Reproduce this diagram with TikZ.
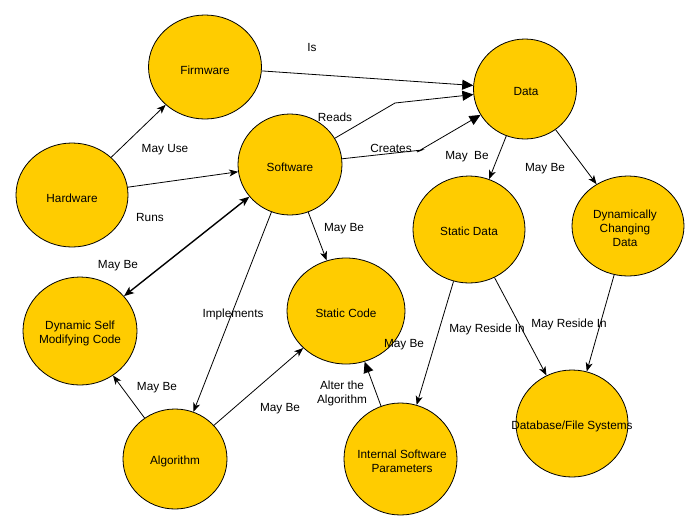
\documentclass[tikz,border=0pt]{standalone}
\usepackage{fontspec}
\setmainfont{Liberation Sans}
\usetikzlibrary{shapes.geometric,arrows.meta}
\definecolor{bubfill}{RGB}{255,204,0}
\begin{document}
\begin{tikzpicture}[x=1pt,y=-1pt,
  font=\fontsize{11.8}{13.8}\selectfont,
  bub/.style n args={2}{ellipse, draw=black, line width=0.8pt, fill=bubfill, inner sep=0pt,
     minimum width=#1, minimum height=#2},
  txt/.style={align=center, inner sep=0pt, yshift=-1.5pt},
  con/.style={line width=0.8pt, -{Stealth[length=9pt,width=7pt,inset=2.5pt]}},
  tri/.style={line width=0.8pt, -{Triangle[length=11pt,width=10pt]}},
  lbl/.style={inner sep=0pt, yshift=-1.5pt}]
\useasboundingbox (0,0) rectangle (699,531);
% nodes
\node[bub={113pt}{104pt}] (fw) at (205,67) {};
\node[txt] at (205,69) {Firmware};
\node[bub={103pt}{100pt}] (data) at (525,89) {};
\node[txt] at (526,90) {Data};
\node[bub={104pt}{101pt}] (sw) at (290,164.5) {};
\node[txt] at (290,166) {Software};
\node[bub={112pt}{104pt}] (hw) at (72,195) {};
\node[txt] at (72,197) {Hardware};
\node[bub={112pt}{107pt}] (sd) at (469,229.5) {};
\node[txt] at (469,230) {Static Data};
\node[bub={112pt}{100pt}] (dcd) at (628,226) {};
\node[txt] at (625,227) {Dynamically\\Changing\\Data};
\node[bub={114pt}{108pt}] (dsm) at (80,331) {};
\node[txt] at (80,332) {Dynamic Self\\Modifying Code};
\node[bub={118pt}{106pt}] (sc) at (346,311) {};
\node[txt] at (346,312) {Static Code};
\node[bub={104pt}{100pt}] (alg) at (175,459) {};
\node[txt] at (175,460) {Algorithm};
\node[bub={113pt}{112pt}] (isp) at (400.5,459) {};
\node[txt] at (402,460) {Internal Software\\Parameters};
\node[bub={112pt}{107pt}] (db) at (572,423.5) {};
\node[txt] at (572,425) {Database/File Systems};
% connector bends
\coordinate (rb) at (395,103);
\coordinate (cb1) at (422,150);
\coordinate (cb2) at (417,152);
% connectors
\draw[tri] (fw) -- (data);
\draw[tri] (sw) -- (rb) -- (data);
\draw[tri] (sw) -- (cb1) -- (cb2) -- (data);
\draw[con] (hw) -- (fw);
\draw[con] (hw) -- (sw);
\draw[line width=1.4pt, {Stealth[length=10pt,width=8pt,inset=2.5pt]}-{Stealth[length=10pt,width=8pt,inset=2.5pt]}] (sw) -- (dsm);
\draw[con] (sw) -- (alg);
\draw[con] (sw) -- (sc);
\draw[con] (data) -- (sd);
\draw[con] (data) -- (dcd);
\draw[con] (sd) -- (isp);
\draw[con] (sd) -- (db);
\draw[con] (dcd) -- (db);
\draw[tri] (isp) -- (sc);
\draw[con] (alg) -- (dsm);
\draw[con] (alg) -- (sc);
% labels
\node[lbl] at (312,46) {Is};
\node[lbl] at (335,116) {Reads};
\node[lbl] at (391,147) {Creates};
\node[lbl] at (467,155) {May~~Be};
\node[lbl] at (545,167) {May Be};
\node[lbl] at (165,148) {May Use};
\node[lbl] at (150,216) {Runs};
\node[lbl] at (118,264) {May Be};
\node[lbl] at (233,313) {Implements};
\node[lbl] at (344,227) {May Be};
\node[lbl] at (487,328) {May Reside In};
\node[lbl] at (569,323) {May Reside In};
\node[lbl] at (404,343) {May Be};
\node[lbl,align=center] at (342,392) {Alter the\\Algorithm};
\node[lbl] at (157,386) {May Be};
\node[lbl] at (280,407) {May Be};
\end{tikzpicture}
\end{document}
